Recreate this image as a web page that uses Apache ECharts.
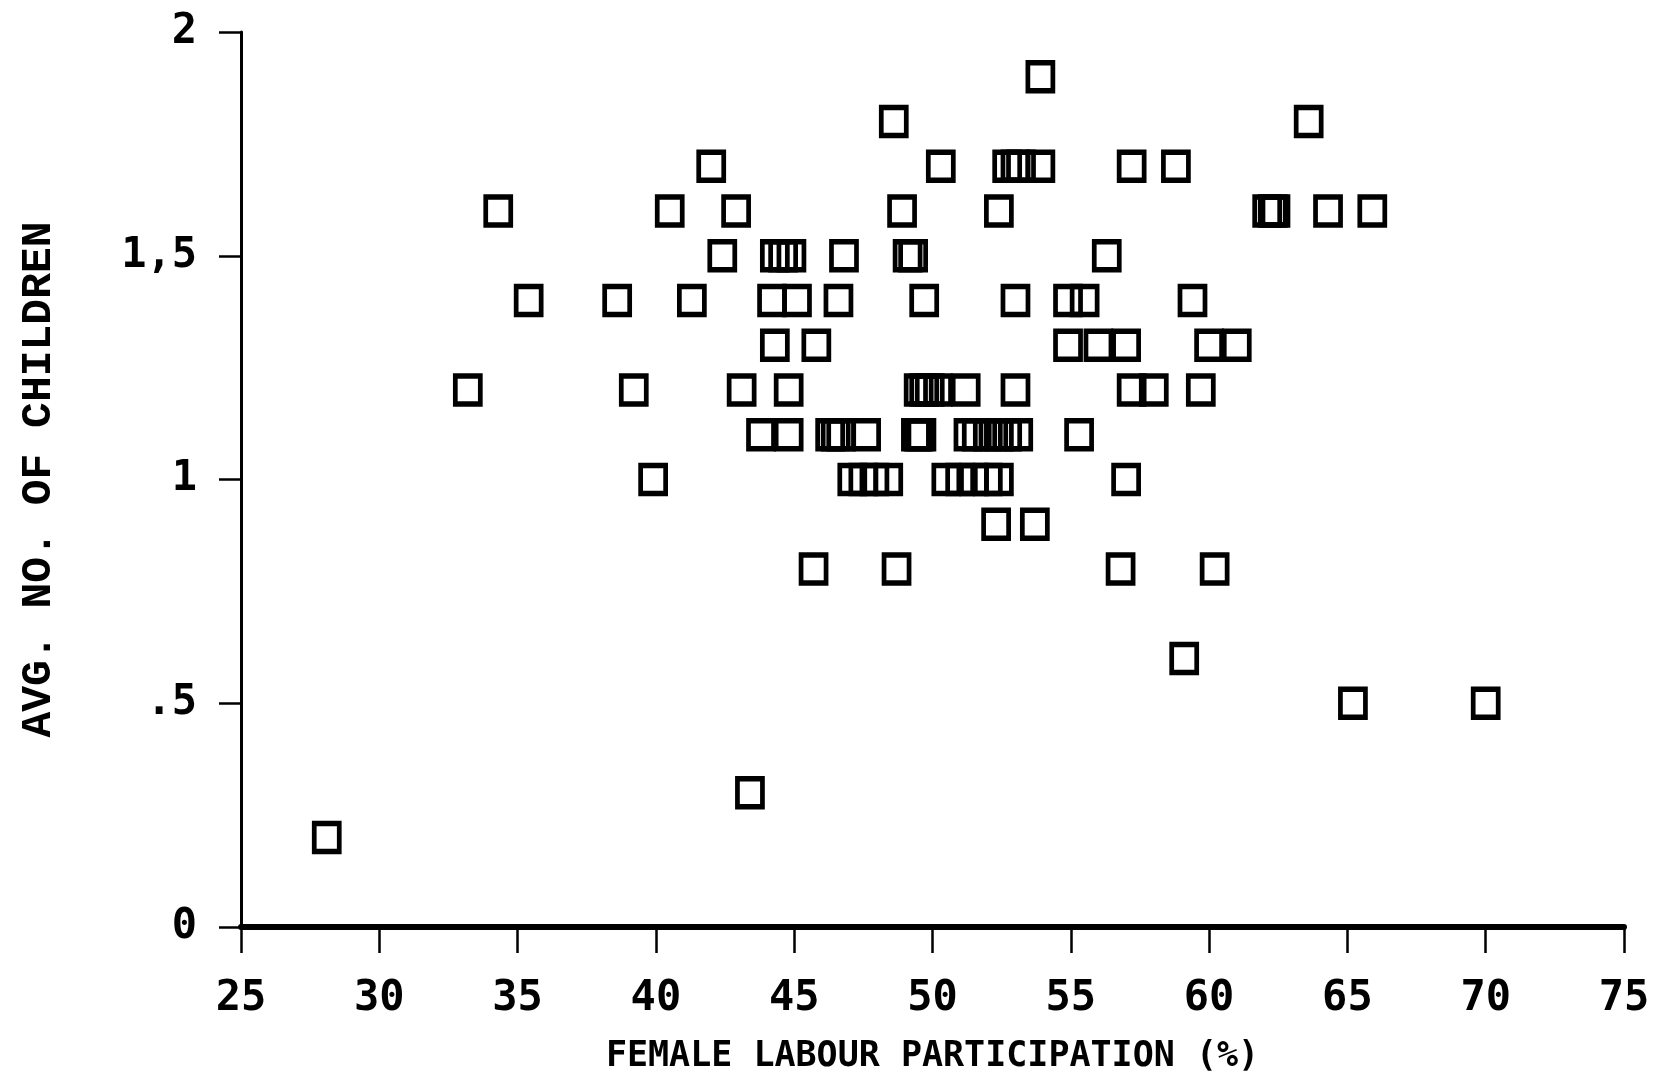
<!DOCTYPE html>
<html>
<head>
<meta charset="utf-8">
<script src="https://cdn.jsdelivr.net/npm/echarts@6/dist/echarts.min.js"></script>
<style>
html,body{margin:0;padding:0;background:#fff;}
#chart{width:1661px;height:1089px;}
</style>
</head>
<body>
<div id="chart"></div>
<script>
// Female labour participation (%) for each point
const participation = [
  53.9,
  48.6, 63.6,
  42.0, 50.3, 52.7, 53.0, 53.2, 53.9, 57.2, 58.8,
  34.3, 40.5, 42.9, 48.9, 52.4, 62.1, 62.3, 62.4, 64.3, 65.9,
  42.4, 44.3, 44.6, 44.9, 46.8, 49.1, 49.3, 56.3,
  35.4, 38.6, 41.3, 44.2, 45.1, 46.6, 49.7, 53.0, 54.9, 55.5, 59.4,
  44.3, 45.8, 54.9, 56.0, 57.0, 60.0, 61.0,
  33.2, 39.2, 43.1, 44.8, 49.5, 49.7, 49.9, 50.2, 51.2, 53.0, 57.2, 58.0, 59.7,
  43.8, 44.8, 46.3, 46.5, 46.7, 47.6, 49.4, 49.5, 49.6, 51.3, 51.6, 52.0, 52.4, 52.7, 53.1, 55.3,
  39.9, 47.1, 47.5, 47.9, 48.4, 50.5, 51.0, 51.5, 52.0, 52.4, 57.0,
  52.3, 53.7,
  45.7, 48.7, 56.8, 60.2,
  59.1,
  65.2, 70.0,
  43.4,
  28.1
];
// Average number of children for each point (same order)
const children = [
  1.9,
  1.8, 1.8,
  1.7, 1.7, 1.7, 1.7, 1.7, 1.7, 1.7, 1.7,
  1.6, 1.6, 1.6, 1.6, 1.6, 1.6, 1.6, 1.6, 1.6, 1.6,
  1.5, 1.5, 1.5, 1.5, 1.5, 1.5, 1.5, 1.5,
  1.4, 1.4, 1.4, 1.4, 1.4, 1.4, 1.4, 1.4, 1.4, 1.4, 1.4,
  1.3, 1.3, 1.3, 1.3, 1.3, 1.3, 1.3,
  1.2, 1.2, 1.2, 1.2, 1.2, 1.2, 1.2, 1.2, 1.2, 1.2, 1.2, 1.2, 1.2,
  1.1, 1.1, 1.1, 1.1, 1.1, 1.1, 1.1, 1.1, 1.1, 1.1, 1.1, 1.1, 1.1, 1.1, 1.1, 1.1,
  1.0, 1.0, 1.0, 1.0, 1.0, 1.0, 1.0, 1.0, 1.0, 1.0, 1.0,
  0.9, 0.9,
  0.8, 0.8, 0.8, 0.8,
  0.6,
  0.5, 0.5,
  0.3,
  0.2
];
const yTickValues = [0, 0.5, 1, 1.5, 2];
const yTickLabels = ['0', '.5', '1', '1,5', '2'];
const xTitle = 'FEMALE LABOUR PARTICIPATION (%)';
const yTitle = 'AVG. NO. OF CHILDREN';

const points = participation.map((x, i) => [x, children[i]]);
const MONO = "'DejaVu Sans Mono', 'Liberation Mono', monospace";
const MONO2 = "'Liberation Mono', 'DejaVu Sans Mono', monospace";

const chart = echarts.init(document.getElementById('chart'), null, {renderer: 'canvas'});
chart.setOption({
  backgroundColor: '#ffffff',
  animation: false,
  grid: {left: 241, right: 37, top: 32, bottom: 162, containLabel: false},
  xAxis: {
    type: 'value', min: 25, max: 75, interval: 5,
    name: xTitle, nameLocation: 'middle', nameGap: 112, nameMoveOverlap: false,
    nameTextStyle: {fontFamily: MONO, fontWeight: 'bold', fontSize: 35, color: '#000'},
    axisLine: {show: true, onZero: false, lineStyle: {color: '#000', width: 6}},
    axisTick: {show: true, length: 26, lineStyle: {color: '#000', width: 2.5}},
    axisLabel: {fontFamily: MONO, fontWeight: 'bold', fontSize: 42, color: '#000', margin: 51},
    splitLine: {show: false}
  },
  yAxis: {
    type: 'value', min: 0, max: 2, interval: 0.5,
    name: yTitle, nameLocation: 'middle', nameGap: 180, nameRotate: 90, nameMoveOverlap: false,
    nameTextStyle: {fontFamily: MONO2, fontWeight: 'bold', fontSize: 43, color: '#000'},
    axisLine: {show: true, onZero: false, lineStyle: {color: '#000', width: 3}},
    axisTick: {show: true, length: 22, lineStyle: {color: '#000', width: 2.5}},
    axisLabel: {
      fontFamily: MONO, fontWeight: 'bold', fontSize: 42, color: '#000', margin: 44,
      formatter: v => { const k = yTickValues.indexOf(v); return k >= 0 ? yTickLabels[k] : ''; }
    },
    splitLine: {show: false}
  },
  series: [{
    type: 'scatter',
    data: points,
    symbol: 'rect',
    symbolSize: [25, 28],
    itemStyle: {color: 'rgba(0,0,0,0)', borderColor: '#000', borderWidth: 5, opacity: 1}
  }]
});
</script>
</body>
</html>
